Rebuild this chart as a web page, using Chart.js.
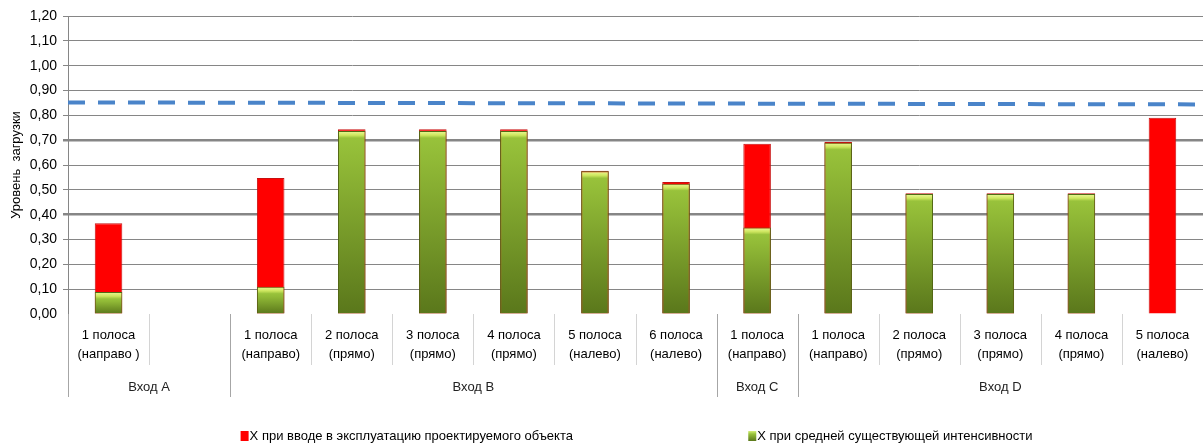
<!DOCTYPE html>
<html>
<head>
<meta charset="utf-8">
<script src="https://cdn.jsdelivr.net/npm/chart.js@4/dist/chart.umd.min.js"></script>
<style>
  html, body { margin: 0; padding: 0; background: #fff; }
  #box { width: 1203px; height: 448px; }
</style>
</head>
<body>
<div id="box"><canvas id="grafico"></canvas></div>
<script>
// Полосы (категории оси X)
const polosy = [
    ["1 полоса", "(направо )"],
    "",
    ["1 полоса", "(направо)"],
    ["2 полоса", "(прямо)"],
    ["3 полоса", "(прямо)"],
    ["4 полоса", "(прямо)"],
    ["5 полоса", "(налево)"],
    ["6 полоса", "(налево)"],
    ["1 полоса", "(направо)"],
    ["1 полоса", "(направо)"],
    ["2 полоса", "(прямо)"],
    ["3 полоса", "(прямо)"],
    ["4 полоса", "(прямо)"],
    ["5 полоса", "(налево)"]
];

// Группы (входы) и число полос в каждой
const vhody = ["Вход A", "Вход B", "Вход C", "Вход D"];
const razmerGrupp = [2, 6, 1, 5];

// Уровень загрузки
const xProekt = [0.365, null, 0.548, 0.744, 0.744, 0.744, 0.577, 0.532, 0.686, 0.693, 0.486, 0.486, 0.486, 0.79];
const xSrednyaya = [0.089, null, 0.11, 0.737, 0.737, 0.737, 0.575, 0.525, 0.348, 0.69, 0.483, 0.483, 0.483, null];

// Пунктирная линия (предел)
const predel = [0.852, 0.844];

const shrift = "'Liberation Sans', Arial, sans-serif";

function zelenyi(c) {
    const chart = c.chart;
    const area = chart.chartArea;
    if (!area || c.raw == null) return '#86ad34';
    const top = chart.scales.y.getPixelForValue(c.raw);
    const h = Math.max(area.bottom - top, 1);
    const g = chart.ctx.createLinearGradient(0, top, 0, area.bottom);
    const f = Math.min(7 / h, 0.4);
    g.addColorStop(0, '#ecfa9a');
    g.addColorStop(f * 0.6, '#cde65e');
    g.addColorStop(f, '#98c23b');
    g.addColorStop(Math.min(f + 0.1, 0.6), '#92bb37');
    g.addColorStop(1, '#5a771b');
    return g;
}

// Подписи групп, разделители и легенда
const dopolnenie = {
    id: 'dopolnenie',
    afterDraw(chart) {
        const ctx = chart.ctx;
        const x = chart.scales.x;
        const area = chart.chartArea;
        const half = (x.getPixelForValue(1) - x.getPixelForValue(0)) / 2;
        const granica = i => x.getPixelForValue(i) - half;

        ctx.save();
        // короткие разделители между полосами
        ctx.lineWidth = 1;
        ctx.strokeStyle = '#d4d4d4';
        for (let i = 1; i < polosy.length; i++) {
            const px = Math.round(granica(i)) + 0.5;
            ctx.beginPath();
            ctx.moveTo(px, area.bottom);
            ctx.lineTo(px, area.bottom + 51);
            ctx.stroke();
        }
        // длинные разделители между входами
        ctx.strokeStyle = '#a6a6a6';
        let start = 0;
        ctx.font = "13px " + shrift;
        ctx.textAlign = 'center';
        ctx.textBaseline = 'middle';
        ctx.fillStyle = '#222';
        vhody.forEach((name, k) => {
            const px = Math.round(granica(start)) + 0.5;
            ctx.beginPath();
            ctx.moveTo(px, area.bottom);
            ctx.lineTo(px, area.bottom + 83);
            ctx.stroke();
            const end = start + razmerGrupp[k];
            const mid = (granica(start) + granica(end)) / 2;
            ctx.fillText(name, mid, area.bottom + 73);
            start = end;
        });

        // легенда: красный, затем зелёный
        const items = [chart.data.datasets[2], chart.data.datasets[1]];
        const pozicii = [0.2, 0.622];
        const ly = 436;
        ctx.textAlign = 'left';
        items.forEach((ds, k) => {
            const lx = chart.width * pozicii[k];
            if (k === 0) {
                ctx.fillStyle = '#ff0000';
            } else {
                const g = ctx.createLinearGradient(0, ly - 5, 0, ly + 5);
                g.addColorStop(0, '#d6f07a');
                g.addColorStop(0.3, '#98c23b');
                g.addColorStop(1, '#5a771b');
                ctx.fillStyle = g;
            }
            ctx.fillRect(lx, ly - 5, 8, 10);
            ctx.fillStyle = '#000';
            ctx.fillText(ds.label, lx + 9, ly);
        });
        ctx.restore();
    }
};

const ctxG = document.getElementById('grafico').getContext('2d');

const grafico = new Chart(ctxG, {
    data: {
        labels: polosy,
        datasets: [
            {
                type: 'line',
                label: 'Предел',
                data: [{ x: 0, y: predel[0] }, { x: 1, y: predel[1] }],
                xAxisID: 'xl',
                borderColor: '#4a84c9',
                borderWidth: 4,
                borderDash: [17, 13],
                pointRadius: 0,
                order: 0
            },
            {
                type: 'bar',
                label: 'X при средней существующей интенсивности',
                data: xSrednyaya,
                backgroundColor: zelenyi,
                borderColor: '#4f6b15',
                borderWidth: 1,
                grouped: false,
                barPercentage: 0.34,
                categoryPercentage: 1,
                order: 1
            },
            {
                type: 'bar',
                label: 'X при вводе в эксплуатацию проектируемого объекта',
                data: xProekt,
                backgroundColor: '#ff0000',
                borderColor: '#c81010',
                borderWidth: 1,
                grouped: false,
                barPercentage: 0.34,
                categoryPercentage: 1,
                order: 2
            }
        ]
    },
    options: {
        responsive: true,
        maintainAspectRatio: false,
        animation: false,
        layout: { padding: { top: 16, right: -4, bottom: 78, left: 0 } },
        plugins: {
            legend: { display: false },
            tooltip: { enabled: false }
        },
        scales: {
            x: {
                type: 'category',
                grid: { display: false },
                border: { display: false },
                afterFit: s => { s.height = 56; },
                ticks: {
                    autoSkip: false,
                    maxRotation: 0,
                    padding: 4,
                    color: '#000',
                    font: { size: 13, family: shrift, lineHeight: 1.45 }
                }
            },
            xl: {
                type: 'linear',
                display: false,
                min: 0,
                max: 1
            },
            y: {
                min: 0,
                max: 1.2,
                afterFit: s => { s.width = 68; },
                border: { display: true, color: '#868686' },
                grid: {
                    tickLength: 5,
                    color: c => Math.abs(c.tick.value) < 1e-9 ? 'rgba(0,0,0,0)' : '#868686',
                    lineWidth: c => (Math.abs(c.tick.value - 0.4) < 1e-6 || Math.abs(c.tick.value - 0.7) < 1e-6) ? 2.5 : 1
                },
                ticks: {
                    stepSize: 0.1,
                    padding: 6,
                    color: '#000',
                    font: { size: 14, family: shrift },
                    callback: v => v.toFixed(2).replace('.', ',')
                },
                title: {
                    display: true,
                    text: 'Уровень  загрузки',
                    color: '#000',
                    padding: { top: 9, bottom: 0 },
                    font: { size: 13, family: shrift }
                }
            }
        }
    },
    plugins: [dopolnenie]
});
</script>
</body>
</html>
